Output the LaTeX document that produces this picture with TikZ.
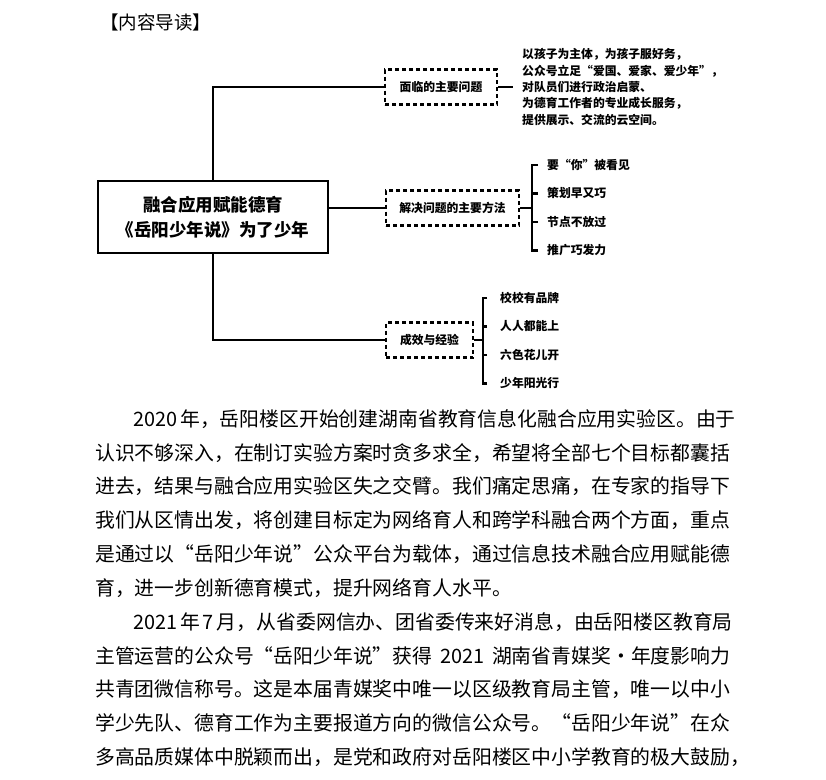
\documentclass[tikz,border=0pt]{standalone}
\usepackage{fontspec}
\setmainfont{Noto Sans CJK SC}
\XeTeXlinebreaklocale "zh"
\XeTeXlinebreakskip=0pt plus 2pt minus 0.5pt
\newcommand{\bodyline}[2]{\hbox to #1{#2}}
\tikzset{
  mapline/.style={line width=2.6pt},
  corebox/.style={draw, line width=1.8pt, minimum width=230pt, minimum height=72pt, align=center, font=\fontsize{17.5}{25}\selectfont\bfseries},
  dashbox/.style={draw, dash pattern=on 4pt off 3pt, line width=2.3pt, minimum height=35pt, font=\fontsize{11.8}{14}\selectfont\bfseries},
  leaf/.style={anchor=west, inner sep=0pt, font=\fontsize{11.8}{14}\selectfont\bfseries},
  body/.style={anchor=west, inner sep=0pt, font=\fontsize{19.84}{24}\selectfont}
}
\begin{document}
\begin{tikzpicture}[x=1pt, y={(0pt,-1pt)}]
\useasboundingbox (0,0) rectangle (826,779);
\fill[white] (0,0) rectangle (826,779);
\node[anchor=west, inner sep=0pt, font=\fontsize{18.5}{20}\selectfont] (title) at (100,22) {【内容导读】};
\node[corebox] (core) at (213,217) {融合应用赋能德育\\《岳阳少年说》为了少年};
\node[dashbox, minimum width=112pt] (prob) at (441,87) {面临的主要问题};
\node[dashbox, minimum width=133pt] (meth) at (452.5,208) {解决问题的主要方法};
\node[dashbox, minimum width=87pt] (gain) at (429.5,340) {成效与经验};
\node[leaf, align=left, font=\fontsize{11.8}{16.4}\selectfont\bfseries] (probtxt) at (522,87)
  {以孩子为主体，为孩子服好务，\\公众号立足“爱国、爱家、爱少年”，\\对队员们进行政治启蒙、\\为德育工作者的专业成长服务，\\提供展示、交流的云空间。};
\coordinate (methbr) at (532,208);
\coordinate (gainbr) at (483,340);
\foreach \t [count=\i] in {要“你”被看见, 策划早又巧, 节点不放过, 推广巧发力}
  \node[leaf] (meth\i) at (547,{165+28.4*(\i-1)}) {\t};
\foreach \t [count=\i] in {校校有品牌, 人人都能上, 六色花儿开, 少年阳光行}
  \node[leaf] (gain\i) at (500,{298+28.4*(\i-1)}) {\t};
\draw[mapline] (core.north) |- (prob.west);
\draw[mapline] (core.south) |- (gain.west);
\draw[mapline] (meth.west) -- (meth.west -| core.east);
\draw[mapline] (prob.east) -- ([xshift=-9pt]probtxt.west);
\draw[mapline] (meth.east) -- (methbr);
\draw[mapline] (gain.east) -- (gainbr);
\foreach \i in {1,...,4} {
  \draw[mapline] ([xshift=-9pt]meth\i.west) -| (methbr);
  \draw[mapline] ([xshift=-13pt]gain\i.west) -| (gainbr);
}
\node[body] (p1a) at (133,419) {\bodyline{597pt}{2020 年，岳阳楼区开始创建湖南省教育信息化融合应用实验区。由于}};
\node[body] (p1b) at (95,452.8) {\bodyline{635pt}{认识不够深入，在制订实验方案时贪多求全，希望将全部七个目标都囊括}};
\node[body] (p1c) at (95,486.6) {\bodyline{635pt}{进去，结果与融合应用实验区失之交臂。我们痛定思痛，在专家的指导下}};
\node[body] (p1d) at (95,520.4) {\bodyline{635pt}{我们从区情出发，将创建目标定为网络育人和跨学科融合两个方面，重点}};
\node[body] (p1e) at (95,554.2) {\bodyline{635pt}{是通过以“岳阳少年说”公众平台为载体，通过信息技术融合应用赋能德}};
\node[body] (p1f) at (95,588) {育，进一步创新德育模式，提升网络育人水平。};
\node[body] (p2a) at (133,621.8) {\bodyline{597pt}{2021 年 7 月，从省委网信办、团省委传来好消息，由岳阳楼区教育局}};
\node[body] (p2b) at (95,655.6) {\bodyline{635pt}{主管运营的公众号“岳阳少年说”获得 2021 湖南省青媒奖·年度影响力}};
\node[body] (p2c) at (95,689.4) {\bodyline{635pt}{共青团微信称号。这是本届青媒奖中唯一以区级教育局主管，唯一以中小}};
\node[body] (p2d) at (95,723.2) {\bodyline{635pt}{学少先队、德育工作为主要报道方向的微信公众号。“岳阳少年说”在众}};
\node[body] (p2e) at (95,757) {\bodyline{635pt}{多高品质媒体中脱颖而出，是党和政府对岳阳楼区中小学教育的极大鼓励，}};
\end{tikzpicture}
\end{document}
